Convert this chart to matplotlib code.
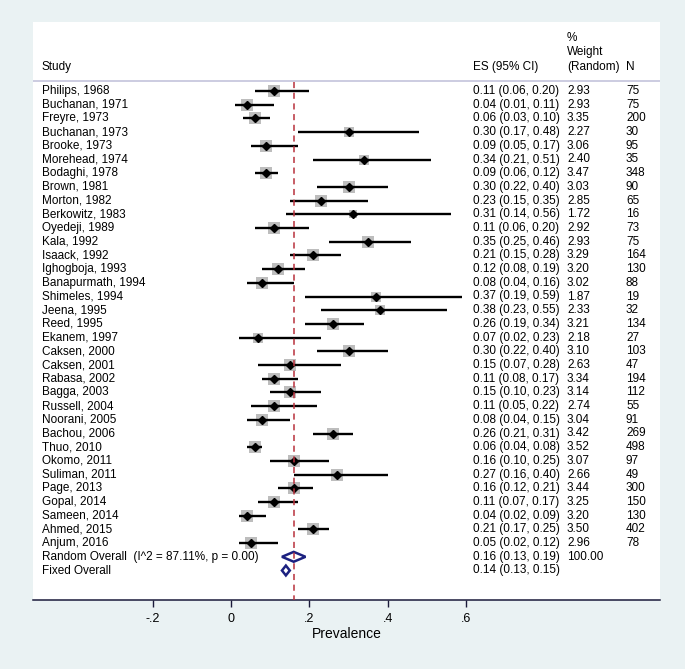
import matplotlib
matplotlib.use('Agg')
import matplotlib.pyplot as plt
import numpy as np
from matplotlib.patches import Polygon

plt.rcParams['font.family'] = ['Liberation Sans', 'DejaVu Sans']

studies = ['Philips, 1968', 'Buchanan, 1971', 'Freyre, 1973', 'Buchanan, 1973',
           'Brooke, 1973', 'Morehead, 1974', 'Bodaghi, 1978', 'Brown, 1981',
           'Morton, 1982', 'Berkowitz, 1983', 'Oyedeji, 1989', 'Kala, 1992',
           'Isaack, 1992', 'Ighogboja, 1993', 'Banapurmath, 1994', 'Shimeles, 1994',
           'Jeena, 1995', 'Reed, 1995', 'Ekanem, 1997', 'Caksen, 2000',
           'Caksen, 2001', 'Rabasa, 2002', 'Bagga, 2003', 'Russell, 2004',
           'Noorani, 2005', 'Bachou, 2006', 'Thuo, 2010', 'Okomo, 2011',
           'Suliman, 2011', 'Page, 2013', 'Gopal, 2014', 'Sameen, 2014',
           'Ahmed, 2015', 'Anjum, 2016']
es = [0.11, 0.04, 0.06, 0.30, 0.09, 0.34, 0.09, 0.30, 0.23, 0.31, 0.11, 0.35,
      0.21, 0.12, 0.08, 0.37, 0.38, 0.26, 0.07, 0.30, 0.15, 0.11, 0.15, 0.11,
      0.08, 0.26, 0.06, 0.16, 0.27, 0.16, 0.11, 0.04, 0.21, 0.05]
lo = [0.06, 0.01, 0.03, 0.17, 0.05, 0.21, 0.06, 0.22, 0.15, 0.14, 0.06, 0.25,
      0.15, 0.08, 0.04, 0.19, 0.23, 0.19, 0.02, 0.22, 0.07, 0.08, 0.10, 0.05,
      0.04, 0.21, 0.04, 0.10, 0.16, 0.12, 0.07, 0.02, 0.17, 0.02]
hi = [0.20, 0.11, 0.10, 0.48, 0.17, 0.51, 0.12, 0.40, 0.35, 0.56, 0.20, 0.46,
      0.28, 0.19, 0.16, 0.59, 0.55, 0.34, 0.23, 0.40, 0.28, 0.17, 0.23, 0.22,
      0.15, 0.31, 0.08, 0.25, 0.40, 0.21, 0.17, 0.09, 0.25, 0.12]
weights = [2.93, 2.93, 3.35, 2.27, 3.06, 2.40, 3.47, 3.03, 2.85, 1.72, 2.92, 2.93,
           3.29, 3.20, 3.02, 1.87, 2.33, 3.21, 2.18, 3.10, 2.63, 3.34, 3.14, 2.74,
           3.04, 3.42, 3.52, 3.07, 2.66, 3.44, 3.25, 3.20, 3.50, 2.96]
n_sizes = [75, 75, 200, 30, 95, 35, 348, 90, 65, 16, 73, 75, 164, 130, 88, 19, 32,
           134, 27, 103, 47, 194, 112, 55, 91, 269, 498, 97, 49, 300, 150, 130, 402, 78]

random_label = 'Random Overall  (I^2 = 87.11%, p = 0.00)'
random_es, random_lo, random_hi, random_w = 0.16, 0.13, 0.19, 100.00
fixed_label = 'Fixed Overall'
fixed_es, fixed_lo, fixed_hi = 0.14, 0.13, 0.15

xticks = [-0.2, 0, 0.2, 0.4, 0.6]
xticklabels = ['-.2', '0', '.2', '.4', '.6']

BG = '#eaf2f3'
NAVY = '#1c2180'
FS = 8.5

fig = plt.figure(figsize=(6.85, 6.69), dpi=100)
fig.patch.set_facecolor(BG)
ax = fig.add_axes([33/685, 69/669, 627/685, 578/669])
ax.set_facecolor('white')

# pixel layout: x=0 at px 231, 392 px per unit; rows 13.7 px apart, first at px 91
ax.set_xlim((33 - 231) / 392, (660 - 231) / 392)
ax.set_ylim((600 - 91) / 13.7, (22 - 91) / 13.7)

x_study = (42 - 231) / 392
x_es = (473 - 231) / 392
x_w = (567 - 231) / 392
x_n = (626 - 231) / 392

rows = np.arange(len(studies))
for i in rows:
    ax.plot([lo[i], hi[i]], [i, i], color='black', lw=1.7, solid_capstyle='butt', zorder=3)
    ax.plot(es[i], i, 's', color='#bdbdbd', markersize=4.9 * np.sqrt(weights[i]),
            markeredgewidth=0, zorder=2)
    ax.plot(es[i], i, 'D', color='black', markersize=4, zorder=4)
    ax.text(x_study, i, studies[i], fontsize=FS, va='center', ha='left')
    ax.text(x_es, i, f'{es[i]:.2f} ({lo[i]:.2f}, {hi[i]:.2f})', fontsize=FS,
            va='center', ha='left')
    ax.text(x_w, i, f'{weights[i]:.2f}', fontsize=FS, va='center', ha='left')
    ax.text(x_n, i, f'{n_sizes[i]}', fontsize=FS, va='center', ha='left')

# overall diamonds
yr = len(studies)
yf = len(studies) + 1
h = 0.36
for y, e, l, u in [(yr, random_es, random_lo, random_hi), (yf, fixed_es, fixed_lo, fixed_hi)]:
    ax.add_patch(Polygon([(l, y), (e, y - h), (u, y), (e, y + h)], closed=True,
                         fill=False, edgecolor=NAVY, lw=1.8, zorder=4))
ax.text(x_study, yr, random_label, fontsize=FS, va='center', ha='left')
ax.text(x_es, yr, f'{random_es:.2f} ({random_lo:.2f}, {random_hi:.2f})', fontsize=FS,
        va='center', ha='left')
ax.text(x_w, yr, f'{random_w:.2f}', fontsize=FS, va='center', ha='left')
ax.text(x_study, yf, fixed_label, fontsize=FS, va='center', ha='left')
ax.text(x_es, yf, f'{fixed_es:.2f} ({fixed_lo:.2f}, {fixed_hi:.2f})', fontsize=FS,
        va='center', ha='left')

# header
y_head = (67 - 91) / 13.7
ax.text(x_study, y_head, 'Study', fontsize=FS, va='center', ha='left')
ax.text(x_es, y_head, 'ES (95% CI)', fontsize=FS, va='center', ha='left')
ax.text(x_w, y_head, '(Random)', fontsize=FS, va='center', ha='left')
ax.text(x_w, (52 - 91) / 13.7, 'Weight', fontsize=FS, va='center', ha='left')
ax.text(x_w, (38 - 91) / 13.7, '%', fontsize=FS, va='center', ha='left')
ax.text(x_n, y_head, 'N', fontsize=FS, va='center', ha='left')
y_line = (81 - 91) / 13.7
ax.axhline(y_line, color='#c4c4dc', lw=1.2)

# reference line at overall random estimate
ax.plot([random_es, random_es], [y_line + 0.1, (600 - 91) / 13.7], color='#b8303c',
        lw=1.1, ls=(0, (4, 3)), zorder=5)

for s in ['top', 'right', 'left']:
    ax.spines[s].set_visible(False)
ax.spines['bottom'].set_color('#1a1a3a')
ax.spines['bottom'].set_linewidth(1.1)
ax.set_yticks([])
ax.set_xticks(xticks)
ax.set_xticklabels(xticklabels, fontsize=9)
ax.tick_params(axis='x', direction='out', length=5, width=1, color='#1a1a3a', pad=4)
ax.set_xlabel('Prevalence', fontsize=10, labelpad=2)

fig.savefig('out.png', dpi=100, facecolor=fig.get_facecolor())
